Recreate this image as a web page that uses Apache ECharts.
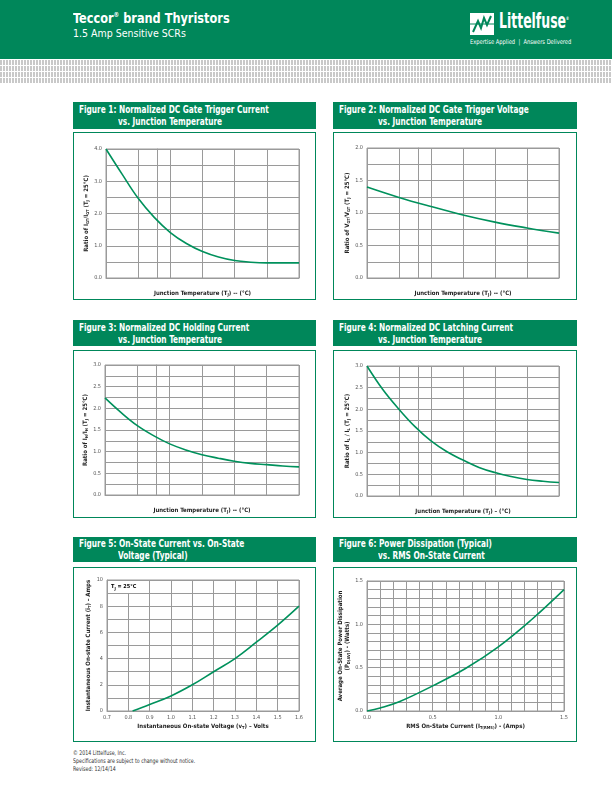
<!DOCTYPE html>
<html><head><meta charset="utf-8">
<script src="https://cdn.jsdelivr.net/npm/echarts@6/dist/echarts.min.js"></script>
<style>
html,body{margin:0;padding:0;width:612px;height:792px;background:#fff;overflow:hidden;font-family:"Liberation Sans Narrow","DejaVu Sans Condensed","Liberation Sans",sans-serif;}
#top{position:absolute;left:0;top:0;width:612px;height:59px;background:#00875a;}
#band{position:absolute;left:0;top:60px;width:612px;height:24px;
 background-color:#fff;
 background-image:repeating-linear-gradient(0deg,#fff 0 1px,transparent 1px 6px),repeating-linear-gradient(90deg,#c9c9c9 0 2px,#fff 2px 3px);}
.sx{transform-origin:0 0;white-space:nowrap;}
.t1{position:absolute;left:73px;top:10px;color:#fff;font-weight:bold;font-size:14px;transform:scaleX(0.9);}
.t2{position:absolute;left:73px;top:27px;color:#fff;font-size:10.5px;}
.hdr{position:absolute;background:#00875a;color:#fff;font-weight:bold;font-size:10px;line-height:12px;}
.hdr div{position:absolute;white-space:nowrap;transform:scaleX(0.82);transform-origin:0 0;}
.pnl{position:absolute;border:1.5px solid #00875a;box-sizing:border-box;}
.foot{position:absolute;left:73px;font-size:6.4px;color:#333;transform:scaleX(0.82);transform-origin:0 0;white-space:nowrap;}
#chart{position:absolute;left:0;top:0;width:612px;height:792px;}
</style></head><body>
<div id="top">
 <div class="t1 sx">Teccor<sup style="font-size:7px">®</sup> brand Thyristors</div>
 <div class="t2 sx">1.5 Amp Sensitive SCRs</div>
 <svg style="position:absolute;left:470px;top:13px" width="24" height="22" viewBox="0 0 24 22">
  <rect x="0" y="0" width="24" height="22" fill="#fff"/>
  <polyline points="3,19 8,8 11,15 14,5 17,12 21,3" fill="none" stroke="#00875a" stroke-width="2"/>
  <line x1="0" y1="11" x2="24" y2="11" stroke="#00875a" stroke-width="1"/>
 </svg>
 <div class="sx" style="position:absolute;left:499px;top:9px;color:#fff;font-weight:bold;font-size:21px;transform:scaleX(0.66)">Littelfuse<sup style="font-size:5px">®</sup></div>
 <div class="sx" style="position:absolute;left:470px;top:38px;color:#fff;font-size:6.5px;transform:scaleX(0.88)">Expertise Applied &nbsp;|&nbsp; Answers Delivered</div>
</div>
<div id="band"></div>

<div class="hdr" style="left:73px;top:102px;width:243px;height:27px"><div style="left:6px;top:2px">Figure 1: Normalized DC Gate Trigger Current</div><div style="left:45px;top:14px">vs. Junction Temperature</div></div>
<div class="hdr" style="left:333px;top:102px;width:244px;height:27px"><div style="left:6px;top:2px">Figure 2: Normalized DC Gate Trigger Voltage</div><div style="left:45px;top:14px">vs. Junction Temperature</div></div>
<div class="hdr" style="left:73px;top:320px;width:243px;height:26px"><div style="left:6px;top:2px">Figure 3: Normalized DC Holding Current</div><div style="left:45px;top:14px">vs. Junction Temperature</div></div>
<div class="hdr" style="left:333px;top:320px;width:244px;height:26px"><div style="left:6px;top:2px">Figure 4: Normalized DC Latching Current</div><div style="left:45px;top:14px">vs. Junction Temperature</div></div>
<div class="hdr" style="left:73px;top:537px;width:243px;height:25px"><div style="left:6px;top:1px">Figure 5: On-State Current vs. On-State</div><div style="left:45px;top:13px">Voltage (Typical)</div></div>
<div class="hdr" style="left:333px;top:537px;width:244px;height:25px"><div style="left:6px;top:1px">Figure 6: Power Dissipation (Typical)</div><div style="left:45px;top:13px">vs. RMS On-State Current</div></div>

<div class="pnl" style="left:73px;top:132px;width:243px;height:168px"></div>
<div class="pnl" style="left:333px;top:132px;width:244px;height:168px"></div>
<div class="pnl" style="left:73px;top:350px;width:243px;height:168px"></div>
<div class="pnl" style="left:333px;top:350px;width:244px;height:168px"></div>
<div class="pnl" style="left:73px;top:567px;width:243px;height:175px"></div>
<div class="pnl" style="left:333px;top:567px;width:244px;height:175px"></div>

<div class="foot" style="top:749px">© 2014 Littelfuse, Inc.</div>
<div class="foot" style="top:757px">Specifications are subject to change without notice.</div>
<div class="foot" style="top:765px">Revised: 12/14/14</div>

<div id="chart"></div>
<script>
// ---- data ----
const tempFine = [-40, -27.5, -15, -2.5, 10, 22.5, 35, 47.5, 60, 72.5, 85, 97.5, 110];
const tempTicks = [-40, -15, 10, 35, 60, 85, 110];
const fig1Igt = [4.0, 3.22, 2.47, 1.88, 1.41, 1.07, 0.82, 0.65, 0.54, 0.49, 0.47, 0.47, 0.47];
const fig2Temp = [-40, -15, 10, 35, 60, 85, 110];
const fig2Vgt = [1.40, 1.24, 1.10, 0.97, 0.86, 0.77, 0.69];
const fig3Ih = [2.24, 1.9, 1.6, 1.37, 1.18, 1.04, 0.93, 0.85, 0.78, 0.73, 0.70, 0.67, 0.65];
const fig4Il = [3.0, 2.45, 2.0, 1.6, 1.27, 1.02, 0.83, 0.66, 0.54, 0.45, 0.38, 0.34, 0.31];
const fig5Volt = [0.82, 0.9, 1.0, 1.1, 1.2, 1.3, 1.4, 1.5, 1.6];
const fig5Amp = [0, 0.5, 1.15, 2.0, 3.0, 4.0, 5.25, 6.55, 8.0];
const fig6Irms = [0, 0.1, 0.25, 0.5, 0.75, 1.0, 1.25, 1.5];
const fig6Watt = [0, 0.035, 0.11, 0.29, 0.49, 0.74, 1.05, 1.40];

const FONT = '"Liberation Sans Narrow","DejaVu Sans Condensed",sans-serif';
const GREEN = '#00915c';
const GRIDC = '#9a9a9a';
const chart = echarts.init(document.getElementById('chart'), null, {renderer:'canvas'});
const zip = (a,b)=>a.map((v,i)=>[v,b[i]]);
const near = (v, step) => Math.abs(v/step - Math.round(v/step)) < 1e-6;

const rich = {
  a:{fontFamily:FONT,fontSize:6,fontWeight:'bold',color:'#222',lineHeight:7},
  s:{fontFamily:FONT,fontSize:4,fontWeight:'bold',color:'#222',lineHeight:7,verticalAlign:'bottom',padding:[3,0,0,0]}
};
function xAxis(idx, min, max, interval, labelStep, name, gap){
  return {type:'value',gridIndex:idx,min,max,interval,
    axisLine:{show:true,lineStyle:{color:GRIDC,width:1}},
    axisTick:{show:false},
    splitLine:{show:true,lineStyle:{color:GRIDC,width:1}},
    axisLabel:{fontFamily:FONT,fontSize:5.5,color:'#555',margin:4,
      formatter:v=> near(v,labelStep) ? (labelStep<1 ? v.toFixed(1) : String(v)) : ''},
    name, nameLocation:'middle', nameGap:gap, nameTextStyle:{rich}};
}
function yAxis(idx, min, max, interval, labelStep, digits, name, gap){
  return {type:'value',gridIndex:idx,min,max,interval,
    axisLine:{show:true,lineStyle:{color:GRIDC,width:1}},
    axisTick:{show:false},
    splitLine:{show:true,lineStyle:{color:GRIDC,width:1}},
    axisLabel:{fontFamily:FONT,fontSize:5.5,color:'#555',margin:4,
      formatter:v=> near(v,labelStep) ? v.toFixed(digits) : ''},
    name, nameLocation:'middle', nameRotate:90, nameGap:gap, nameTextStyle:{rich}};
}
const tempName = '{a|Junction Temperature (T}{s|J}{a|) -- (°C)}';
const tempName4 = '{a|Junction Temperature (T}{s|J}{a|) – (°C)}';
function line(idx, data){
  return {type:'line',xAxisIndex:idx,yAxisIndex:idx,data,smooth:0.4,showSymbol:false,
    lineStyle:{color:GREEN,width:1.6},silent:true,animation:false};
}
const gridBase = {show:true,borderColor:GRIDC,borderWidth:1,containLabel:false};
const option = {
  animation:false,
  grid:[
    Object.assign({left:106,top:149,width:193,height:129},gridBase),
    Object.assign({left:367,top:148,width:192,height:130},gridBase),
    Object.assign({left:105,top:365,width:194,height:130},gridBase),
    Object.assign({left:367,top:366,width:192,height:130},gridBase),
    Object.assign({left:107,top:580,width:192,height:131},gridBase),
    Object.assign({left:367,top:581,width:197,height:130},gridBase)
  ],
  xAxis:[
    xAxis(0,-40,110,25,25,tempName,12),
    xAxis(1,-40,110,25,25,tempName,12),
    xAxis(2,-40,110,25,25,tempName,12),
    xAxis(3,-40,110,25,25,tempName4,12),
    xAxis(4,0.7,1.6,0.1,0.1,'{a|Instantaneous On-state Voltage (v}{s|T}{a|) – Volts}',12),
    xAxis(5,0,1.5,0.1,0.5,'{a|RMS On-State Current (I}{s|T(RMS)}{a|) - (Amps)}',12)
  ],
  yAxis:[
    yAxis(0,0,4,0.5,1,1,'{a|Ratio of I}{s|GT}{a|/I}{s|GT}{a| (T}{s|J}{a| = 25°C)}',15),
    yAxis(1,0,2,0.25,0.5,1,'{a|Ratio of V}{s|GT}{a|/V}{s|GT}{a| (T}{s|J}{a| = 25°C)}',15),
    yAxis(2,0,3,0.25,0.5,1,'{a|Ratio of I}{s|H}{a|/I}{s|H}{a| (T}{s|J}{a| = 25°C)}',15),
    yAxis(3,0,3,0.25,0.5,1,'{a|Ratio of I}{s|L}{a| / I}{s|L}{a| (T}{s|J}{a| = 25°C)}',15),
    yAxis(4,0,10,1,2,0,'{a|Instantaneous On-state Current (i}{s|T}{a|) – Amps}',15),
    yAxis(5,0,1.5,0.1,0.5,1,'{a|Average On-State Power Dissipation}\n{a|(P}{s|D(AV)}{a|) - (Watts)}',15)
  ],
  series:[
    line(0, zip(tempFine, fig1Igt)),
    line(1, zip(fig2Temp, fig2Vgt)),
    line(2, zip(tempFine, fig3Ih)),
    line(3, zip(tempFine, fig4Il)),
    line(4, zip(fig5Volt, fig5Amp)),
    line(5, zip(fig6Irms, fig6Watt))
  ],
  graphic:[
    {type:'rect',left:108,top:581,shape:{width:27,height:12},style:{fill:'#fff'},z:10},
    {type:'text',left:111,top:584,z:11,style:{
      text:'{a|T}{s|J}{a| = 25°C}',
      rich:{a:{fontFamily:FONT,fontSize:5.5,fontWeight:'bold',color:'#222',lineHeight:7},
            s:{fontFamily:FONT,fontSize:4,fontWeight:'bold',color:'#222',lineHeight:7,verticalAlign:'bottom',padding:[2,0,0,0]}}}}
  ]
};
chart.setOption(option);
</script>
</body></html>
